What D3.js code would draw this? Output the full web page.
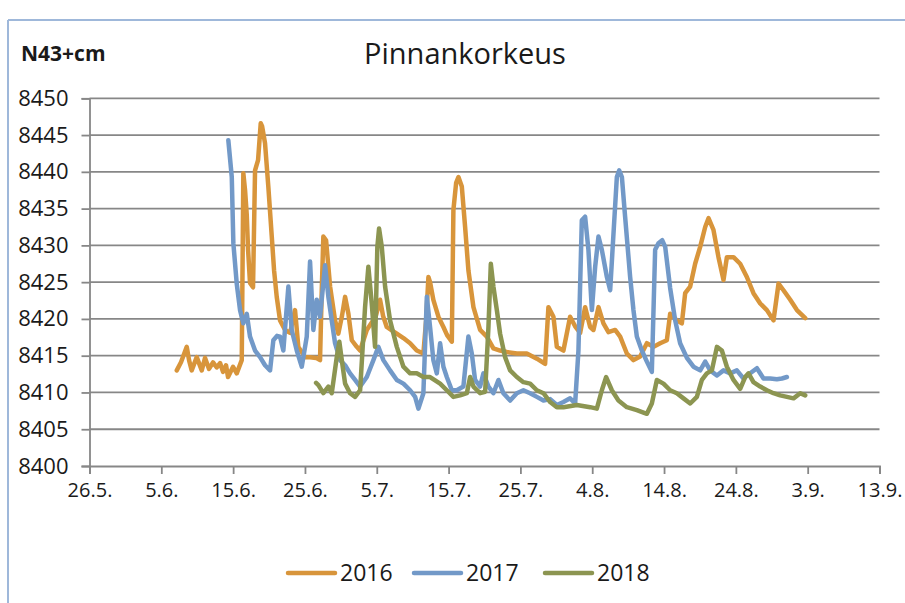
<!DOCTYPE html>
<html>
<head>
<meta charset="utf-8">
<script src="https://cdn.jsdelivr.net/npm/d3@7"></script>
<style>
  body { margin: 0; background: #fff; }
  text { font-family: "Open Sans", "Noto Sans", sans-serif; fill: #1a1a1a; }
</style>
</head>
<body>
<svg id="chart" width="905" height="603"></svg>
<script>
// days after 1 June, water level (N43 + cm)
var days2016 = [6.15,6.74,7.54,7.86,8.23,8.93,9.63,10.09,10.64,11.2,
  11.72,12.18,12.59,13.01,13.29,13.99,14.5,15.2,15.42,15.66,
  15.9,16.08,16.35,16.77,17.05,17.47,17.84,18.03,18.44,18.9,
  19.38,19.7,20.07,20.53,21.23,21.93,22.62,23.08,24.02,24.71,
  25.55,26.1,26.34,26.56,26.94,27.5,28.19,28.65,29.17,29.59,
  30.05,30.52,31.22,31.68,32.61,33.35,33.9,34.46,34.88,35.39,
  35.99,36.79,37.71,38.64,39.57,40.49,40.87,41.19,41.42,41.88,
  42.58,43.28,43.79,44.45,44.67,45.05,45.37,45.84,46.3,46.76,
  47.46,48.39,49.32,50.24,51.17,52.11,53.5,54.89,56.29,57.44,
  57.9,58.6,59.07,59.99,60.92,61.62,62.32,63.01,63.71,64.17,
  64.87,65.56,66.26,67.19,67.89,68.82,69.74,70.67,71.61,72.53,
  73.46,74.39,74.85,75.78,76.48,76.94,77.64,78.33,79.03,79.73,
  80.19,80.88,81.58,82.28,82.75,83.67,84.6,85.53,86.45,87.39,
  88.32,89.24,89.94,90.63,91.57,92.5,93.66];
var level2016 = [8413.0,8414.1,8416.2,8414.4,8413.0,8414.8,8413.0,8414.7,8413.2,8414.1,
  8413.4,8414.0,8412.8,8413.7,8412.1,8413.5,8412.6,8414.4,8439.8,8437.5,
  8434.1,8429.4,8424.9,8424.3,8440.2,8441.6,8446.6,8446.2,8443.9,8438.0,
  8431.2,8426.6,8423.0,8419.8,8418.5,8418.1,8421.2,8416.2,8414.8,8414.8,
  8414.7,8414.4,8423.9,8431.2,8430.7,8424.4,8419.8,8418.0,8420.5,8423.0,
  8420.7,8417.1,8416.2,8415.7,8418.5,8419.6,8420.5,8422.6,8420.4,8418.9,
  8418.5,8418.0,8417.4,8416.7,8415.7,8415.3,8419.8,8425.7,8425.0,8422.6,
  8420.3,8418.9,8417.8,8416.9,8434.8,8438.5,8439.3,8438.0,8432.5,8426.6,
  8421.6,8418.5,8417.6,8416.0,8415.7,8415.5,8415.3,8415.3,8414.6,8413.9,
  8421.6,8420.3,8416.2,8415.7,8420.3,8419.0,8418.1,8421.6,8418.9,8418.5,
  8421.6,8419.4,8418.2,8418.5,8417.6,8415.3,8414.4,8414.9,8416.7,8416.2,
  8416.7,8417.1,8420.7,8419.8,8419.4,8423.5,8424.4,8427.5,8429.8,8432.5,
  8433.7,8432.1,8428.4,8425.3,8428.4,8428.4,8427.5,8425.7,8423.5,8422.1,
  8421.2,8419.8,8424.8,8423.9,8422.6,8421.2,8420.1];

var days2017 = [13.33,13.81,14.03,14.5,14.96,15.42,15.9,16.35,17.05,17.75,
  18.44,19.14,19.6,20.11,20.53,20.99,21.69,22.16,22.86,23.56,
  24.25,24.71,25.17,25.64,26.1,26.8,27.26,27.73,28.19,28.89,
  29.59,30.28,30.98,31.68,32.61,33.53,34.22,34.92,35.85,36.79,
  37.71,38.64,39.34,39.8,40.49,40.97,41.42,41.88,42.36,42.82,
  43.28,43.75,44.45,45.14,46.06,46.76,47.23,47.69,48.39,48.85,
  49.55,50.24,50.94,51.63,52.57,53.5,54.42,55.35,56.29,57.21,
  58.14,59.07,59.99,60.92,61.62,62.08,62.55,63.01,63.47,63.95,
  64.41,64.87,65.34,66.04,66.5,66.96,67.43,67.75,68.13,68.58,
  69.28,69.74,70.21,70.91,71.61,72.3,72.76,73.22,73.74,74.16,
  74.85,75.55,76.24,77.18,78.1,79.03,79.73,80.42,81.36,82.28,
  83.21,84.14,85.06,85.99,86.93,87.85,88.78,89.71,90.41,91.11];
var level2017 = [8444.3,8439.3,8430.3,8424.8,8421.2,8419.4,8420.7,8417.6,8415.7,8414.8,
  8413.7,8413.0,8417.1,8417.7,8417.6,8415.7,8424.4,8418.5,8415.7,8413.5,
  8417.6,8427.8,8418.5,8422.6,8420.3,8427.3,8423.0,8419.8,8416.7,8414.4,
  8413.7,8412.6,8411.7,8410.8,8412.1,8414.4,8416.2,8414.4,8413.0,8411.7,
  8411.2,8410.3,8409.4,8407.8,8409.9,8423.0,8418.9,8414.4,8412.6,8416.7,
  8413.5,8412.1,8410.3,8410.3,8410.8,8417.6,8415.3,8411.7,8410.8,8412.6,
  8410.8,8409.9,8411.7,8409.9,8408.9,8409.9,8410.3,8409.9,8409.4,8408.9,
  8409.1,8408.3,8408.7,8409.2,8408.5,8415.7,8433.4,8433.9,8429.4,8421.2,
  8427.1,8431.2,8429.4,8425.7,8423.9,8431.6,8439.3,8440.2,8439.3,8433.9,
  8425.7,8421.2,8417.6,8415.7,8414.2,8412.8,8429.4,8430.3,8430.7,8429.8,
  8424.2,8419.8,8416.7,8414.7,8413.5,8413.0,8414.2,8413.0,8412.3,8413.0,
  8412.6,8413.0,8411.9,8412.6,8413.3,8411.9,8411.9,8411.8,8411.9,8412.1];

var days2018 = [25.55,25.87,26.56,27.26,27.73,28.43,28.79,29.13,29.59,30.28,
  30.98,31.68,32.37,32.83,33.3,33.76,34.08,34.32,34.7,35.16,
  35.85,36.79,37.71,38.64,39.57,40.49,41.42,42.82,43.75,44.67,
  45.6,46.54,47.0,47.46,48.39,49.09,49.55,49.88,50.24,50.72,
  51.17,51.87,52.57,53.5,54.42,55.35,56.29,57.21,58.14,59.07,
  59.99,61.86,63.71,64.64,65.34,65.94,66.73,67.65,68.82,70.21,
  71.61,72.3,73.0,73.92,74.85,75.78,76.71,77.64,78.57,79.27,
  79.96,80.66,81.36,82.05,82.75,83.67,84.6,85.3,85.76,86.45,
  87.39,88.32,89.24,90.17,91.11,92.03,92.96,93.66];
var level2018 = [8411.3,8411.0,8409.9,8410.8,8409.9,8414.8,8416.9,8414.4,8411.2,8409.9,
  8409.4,8410.3,8421.6,8427.1,8422.1,8416.2,8429.8,8432.3,8429.8,8424.4,
  8419.8,8416.2,8413.5,8412.6,8412.6,8412.1,8412.1,8411.2,8410.3,8409.4,
  8409.6,8409.9,8412.1,8410.8,8409.9,8410.1,8418.9,8427.5,8424.4,8421.2,
  8418.0,8414.8,8413.0,8412.1,8411.4,8411.2,8410.3,8409.9,8408.7,8408.0,
  8408.0,8408.3,8408.0,8407.8,8410.3,8412.1,8410.3,8408.9,8408.0,8407.6,
  8407.1,8408.5,8411.7,8411.2,8410.3,8409.9,8409.2,8408.5,8409.4,8411.7,
  8412.6,8413.0,8416.2,8415.7,8413.5,8411.7,8410.5,8412.1,8412.6,8411.4,
  8410.8,8410.3,8409.9,8409.6,8409.4,8409.2,8409.9,8409.6];

var seriesNames = ["2016", "2017", "2018"];
var seriesColors = ["#d8953b", "#7299c8", "#8c9551"];
var yTicks = [8400, 8405, 8410, 8415, 8420, 8425, 8430, 8435, 8440, 8445, 8450];
var xTickDates = ["2000-05-26","2000-06-05","2000-06-15","2000-06-25","2000-07-05","2000-07-15",
  "2000-07-25","2000-08-04","2000-08-14","2000-08-24","2000-09-03","2000-09-13"];
var xTickLabels = ["26.5.","5.6.","15.6.","25.6.","5.7.","15.7.","25.7.","4.8.","14.8.","24.8.","3.9.","13.9."];

var svg = d3.select("#chart");
var plotLeft = 89.5, plotRight = 879.5, plotTop = 98.3, plotBottom = 466;

var june1 = new Date(2000, 5, 1);
function toDate(d) { return new Date(june1.getTime() + d * 864e5); }
var parse = d3.timeParse("%Y-%m-%d");
var tickDates = xTickDates.map(parse);

var x = d3.scaleTime().domain([tickDates[0], tickDates[tickDates.length - 1]]).range([plotLeft, plotRight]);
var y = d3.scaleLinear().domain([8400, 8450]).range([plotBottom, plotTop]);

// frame edges
svg.append("line").attr("x1", 8).attr("x2", 905).attr("y1", 20).attr("y2", 20)
  .attr("stroke", "#9fb8da").attr("stroke-width", 2);
svg.append("line").attr("x1", 8).attr("x2", 8).attr("y1", 20).attr("y2", 603)
  .attr("stroke", "#9fb8da").attr("stroke-width", 2);

// gridlines
svg.append("g").selectAll("line").data(yTicks.slice(1)).enter().append("line")
  .attr("x1", plotLeft).attr("x2", plotRight)
  .attr("y1", function(d) { return y(d); }).attr("y2", function(d) { return y(d); })
  .attr("stroke", "#878787").attr("stroke-width", 1.8);

// y axis
var yAxis = svg.append("g").attr("transform", "translate(" + plotLeft + ",0)")
  .call(d3.axisLeft(y).tickValues(yTicks).tickSize(8).tickPadding(13).tickFormat(d3.format("d")));
yAxis.select(".domain").attr("stroke", "#878787").attr("stroke-width", 1.8);
yAxis.selectAll(".tick line").attr("stroke", "#878787").attr("stroke-width", 1.8);
yAxis.selectAll("text").style("font-size", "22px").attr("fill", "#1a1a1a")
  .style("font-family", "'Open Sans', sans-serif");

// x axis
var xAxis = svg.append("g").attr("transform", "translate(0," + plotBottom + ")")
  .call(d3.axisBottom(x).tickValues(tickDates).tickSize(8).tickPadding(9)
    .tickFormat(function(d, i) { return xTickLabels[i]; }));
xAxis.select(".domain").attr("stroke", "#878787").attr("stroke-width", 1.8);
xAxis.selectAll(".tick line").attr("stroke", "#878787").attr("stroke-width", 1.8);
xAxis.selectAll("text").style("font-size", "20px").attr("fill", "#1a1a1a")
  .style("font-family", "'Open Sans', sans-serif");

// series
var line = d3.line()
  .x(function(p) { return x(toDate(p[0])); })
  .y(function(p) { return y(p[1]); });

var allSeries = [
  d3.zip(days2016, level2016),
  d3.zip(days2017, level2017),
  d3.zip(days2018, level2018)
];
allSeries.forEach(function(s, i) {
  svg.append("path").datum(s)
    .attr("d", line)
    .attr("fill", "none")
    .attr("stroke", seriesColors[i])
    .attr("stroke-width", 4.5)
    .attr("stroke-linejoin", "round")
    .attr("stroke-linecap", "round");
});

// titles
svg.append("text").attr("x", 465).attr("y", 64).attr("text-anchor", "middle")
  .style("font-size", "29px").text("Pinnankorkeus");
svg.append("text").attr("x", 21).attr("y", 61)
  .style("font-size", "21px").style("font-weight", "bold").text("N43+cm");

// legend
var legendX = [288, 414, 545];
var legend = svg.append("g").selectAll("g").data(seriesNames).enter().append("g")
  .attr("transform", function(d, i) { return "translate(" + legendX[i] + ",573)"; });
legend.append("line").attr("x1", 0).attr("x2", 47).attr("y1", 0).attr("y2", 0)
  .attr("stroke", function(d, i) { return seriesColors[i]; })
  .attr("stroke-width", 4.5).attr("stroke-linecap", "round");
legend.append("text").attr("x", 52).attr("y", 8).style("font-size", "23px")
  .text(function(d) { return d; });
</script>
</body>
</html>
